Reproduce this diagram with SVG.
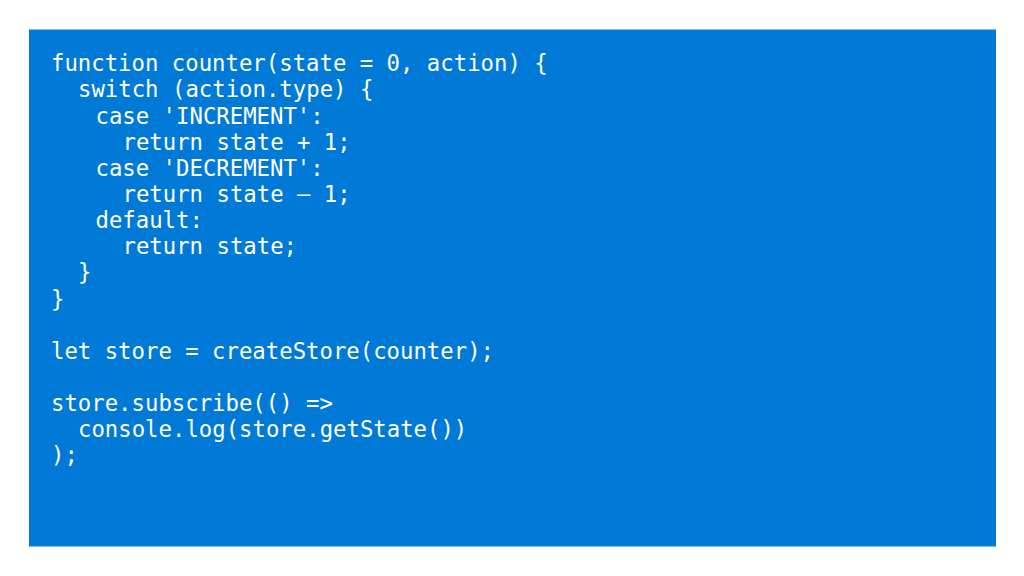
<svg xmlns="http://www.w3.org/2000/svg" width="1024" height="576" viewBox="0 0 1024 576">
  <style>
    .code { font-family: "DejaVu Sans Mono", "Liberation Mono", monospace; font-size: 22.3px; fill: #ffffff; white-space: pre; }
  </style>
  <rect x="0" y="0" width="1024" height="576" fill="#ffffff"/>
  <g id="panel">
    <rect x="29" y="29.5" width="967" height="517" fill="#007ad6"/>
  </g>
  <g id="code" class="code">
    <text x="51" y="71.3">function counter(state = 0, action) {</text>
    <text x="78" y="97.4">switch (action.type) {</text>
    <text x="95.5" y="123.6">case 'INCREMENT':</text>
    <text x="122.5" y="149.7">return state + 1;</text>
    <text x="95.5" y="175.8">case 'DECREMENT':</text>
    <text x="122.5" y="202">return state – 1;</text>
    <text x="95.5" y="228.1">default:</text>
    <text x="122.5" y="254.2">return state;</text>
    <text x="78" y="280.3">}</text>
    <text x="51" y="306.5">}</text>
    <text x="51" y="358.7">let store = createStore(counter);</text>
    <text x="51" y="411">store.subscribe(() =&gt;</text>
    <text x="78" y="437.1">console.log(store.getState())</text>
    <text x="51" y="463.3">);</text>
  </g>
</svg>
